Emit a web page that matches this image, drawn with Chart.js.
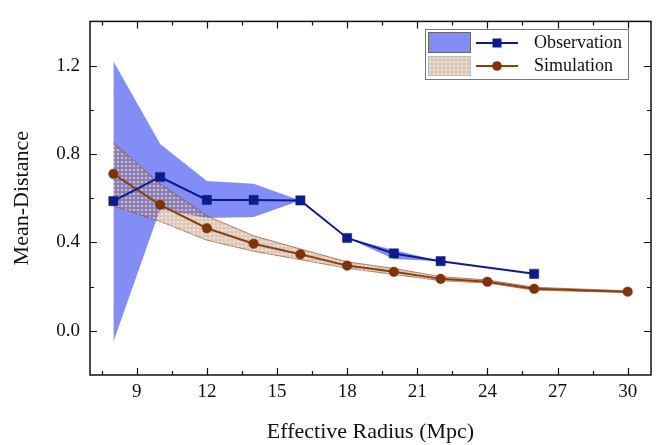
<!DOCTYPE html>
<html>
<head>
<meta charset="utf-8">
<script src="https://cdn.jsdelivr.net/npm/chart.js@4.4.0/dist/chart.umd.min.js"></script>
<style>
  html, body { margin: 0; padding: 0; background: #ffffff; }
  canvas { display: block; }
</style>
</head>
<body>
<canvas id="chart" width="661" height="445"></canvas>
<script>
// Effective radius (Mpc) for each sample
const radius = [8, 10, 12, 14, 16, 18, 20, 22, 24, 26, 30];
const obsRadius = [8, 10, 12, 14, 16, 18, 20, 22, 26];

// Observation: mean distance and its spread
const obsMean  = [0.587, 0.696, 0.592, 0.592, 0.590, 0.420, 0.350, 0.315, 0.258];
const obsUpper = [1.220, 0.845, 0.678, 0.665, 0.590, 0.420, 0.366, 0.315, 0.258];
const obsLower = [-0.050, 0.550, 0.510, 0.515, 0.590, 0.420, 0.325, 0.315, 0.258];

// Simulation: mean distance and its spread
const simMean  = [0.710, 0.570, 0.464, 0.394, 0.346, 0.295, 0.267, 0.235, 0.222, 0.190, 0.177];
const simUpper = [0.850, 0.665, 0.520, 0.430, 0.370, 0.312, 0.282, 0.245, 0.230, 0.197, 0.181];
const simLower = [0.565, 0.495, 0.410, 0.360, 0.322, 0.283, 0.255, 0.227, 0.216, 0.184, 0.173];

// Axis ticks
const xTicks = [9, 12, 15, 18, 21, 24, 27, 30];
const yTicks = [0.0, 0.4, 0.8, 1.2];
const xMinor = [7.5, 10.5, 13.5, 16.5, 19.5, 22.5, 25.5, 28.5];
const yMinor = [0.2, 0.6, 1.0];

const OBS_BAND = '#828ef5';
const OBS_LINE = '#0d1c8c';
const SIM_LINE = '#8a3f10';
const SIM_MARK = '#7f3309';
const SERIF = '"Liberation Serif", "Times New Roman", serif';

// Dotted texture for the simulation spread
function makeDots() {
  const c = document.createElement('canvas');
  c.width = 4; c.height = 4;
  const g = c.getContext('2d');
  g.fillStyle = 'rgba(150, 85, 40, 0.33)';
  g.fillRect(0, 0, 4, 4);
  g.fillStyle = 'rgba(255, 250, 244, 0.5)';
  g.beginPath();
  g.arc(2, 2, 1.3, 0, Math.PI * 2);
  g.fill();
  return g.createPattern(c, 'repeat');
}
const ctx = document.getElementById('chart').getContext('2d');
const dots = makeDots();

const pts = (xs, ys) => xs.map((x, i) => ({ x: x, y: ys[i] }));

// Inward ticks on all four sides plus the frame
const framePlugin = {
  id: 'frame',
  afterDatasetsDraw(chart) {
    const { ctx, chartArea: a, scales: { x, y } } = chart;
    ctx.save();
    ctx.strokeStyle = '#111';
    ctx.lineWidth = 1.5;
    ctx.strokeRect(a.left, a.top, a.right - a.left, a.bottom - a.top);
    ctx.lineWidth = 1.2;
    const tickX = (v, len) => {
      const px = Math.round(x.getPixelForValue(v)) + 0.5;
      ctx.beginPath();
      ctx.moveTo(px, a.bottom); ctx.lineTo(px, a.bottom - len);
      ctx.moveTo(px, a.top); ctx.lineTo(px, a.top + len);
      ctx.stroke();
    };
    const tickY = (v, len) => {
      const py = Math.round(y.getPixelForValue(v)) + 0.5;
      ctx.beginPath();
      ctx.moveTo(a.left, py); ctx.lineTo(a.left + len, py);
      ctx.moveTo(a.right, py); ctx.lineTo(a.right - len, py);
      ctx.stroke();
    };
    xTicks.forEach(v => tickX(v, 7));
    xMinor.forEach(v => tickX(v, 4));
    yTicks.forEach(v => tickY(v, 7));
    yMinor.forEach(v => tickY(v, 4));
    ctx.restore();
  }
};

// Legend box in the upper right corner
const legendPlugin = {
  id: 'boxLegend',
  afterDraw(chart) {
    const c = chart.ctx;
    c.save();
    c.fillStyle = '#ffffff';
    c.fillRect(425, 29, 203, 50);
    c.strokeStyle = '#777';
    c.lineWidth = 1;
    c.strokeRect(425.5, 29.5, 203, 50);

    c.fillStyle = OBS_BAND;
    c.fillRect(428, 32, 42, 20);
    c.strokeStyle = '#666';
    c.strokeRect(428.5, 32.5, 42, 20);

    c.fillStyle = '#ffffff';
    c.fillRect(428, 56, 42, 19);
    c.fillStyle = dots;
    c.fillRect(428, 56, 42, 19);
    c.strokeStyle = '#bbb';
    c.strokeRect(428.5, 56.5, 42, 19);

    c.lineWidth = 2;
    c.strokeStyle = OBS_LINE;
    c.beginPath(); c.moveTo(476, 43); c.lineTo(518, 43); c.stroke();
    c.fillStyle = OBS_LINE;
    c.fillRect(497 - 4.5, 43 - 4.5, 9, 9);

    c.strokeStyle = SIM_LINE;
    c.beginPath(); c.moveTo(476, 66); c.lineTo(518, 66); c.stroke();
    c.fillStyle = SIM_MARK;
    c.beginPath(); c.arc(497, 66, 4.8, 0, Math.PI * 2); c.fill();

    c.fillStyle = '#111';
    c.font = '18px ' + SERIF;
    c.textBaseline = 'middle';
    c.textAlign = 'left';
    c.fillText('Observation', 534, 43);
    c.fillText('Simulation', 534, 66);
    c.restore();
  }
};

new Chart(ctx, {
  type: 'line',
  data: {
    datasets: [
      { label: 'obs-upper', data: pts(obsRadius, obsUpper), fill: '+1',
        backgroundColor: OBS_BAND, borderWidth: 0, pointRadius: 0, order: 5 },
      { label: 'obs-lower', data: pts(obsRadius, obsLower), fill: false,
        borderWidth: 0, pointRadius: 0, order: 5 },
      { label: 'sim-upper', data: pts(radius, simUpper), fill: '+1',
        backgroundColor: dots, borderColor: 'rgba(140, 70, 30, 0.65)', borderWidth: 1,
        pointRadius: 0, order: 4 },
      { label: 'sim-lower', data: pts(radius, simLower), fill: false,
        borderColor: 'rgba(140, 70, 30, 0.65)', borderWidth: 1, pointRadius: 0, order: 4 },
      { label: 'Simulation', data: pts(radius, simMean), fill: false,
        borderColor: SIM_LINE, borderWidth: 2, pointStyle: 'circle', pointRadius: 4.8,
        pointBackgroundColor: SIM_MARK, pointBorderColor: SIM_MARK, pointBorderWidth: 0.5, order: 2 },
      { label: 'Observation', data: pts(obsRadius, obsMean), fill: false,
        borderColor: OBS_LINE, borderWidth: 2, pointStyle: 'rect', pointRadius: 6.5,
        pointBackgroundColor: OBS_LINE, pointBorderColor: OBS_LINE, pointBorderWidth: 0.5, order: 1 }
    ]
  },
  options: {
    responsive: false,
    animation: false,
    layout: { padding: { top: 12, right: 10, left: 0, bottom: 0 } },
    plugins: { legend: { display: false }, tooltip: { enabled: false } },
    elements: { line: { tension: 0 } },
    scales: {
      x: {
        type: 'linear', min: 7, max: 31,
        grid: { display: false, drawTicks: false }, border: { display: false },
        afterBuildTicks: s => { s.ticks = xTicks.map(v => ({ value: v })); },
        afterFit: s => { s.height = 70; },
        ticks: { padding: 6, color: '#111', font: { family: SERIF, size: 19 },
                 callback: v => String(v), maxRotation: 0, autoSkip: false },
        title: { display: true, text: 'Effective Radius (Mpc)', color: '#111',
                 font: { family: SERIF, size: 22 }, padding: { top: 0, bottom: 0 } }
      },
      y: {
        type: 'linear', min: -0.2, max: 1.4,
        grid: { display: false, drawTicks: false }, border: { display: false },
        afterBuildTicks: s => { s.ticks = yTicks.map(v => ({ value: v })); },
        afterFit: s => { s.width = 90; },
        ticks: { padding: 10, color: '#111', font: { family: SERIF, size: 19 },
                 callback: v => Number(v).toFixed(1), autoSkip: false },
        title: { display: true, text: 'Mean-Distance', color: '#111',
                 font: { family: SERIF, size: 22 }, padding: { top: 9, bottom: 0 } }
      }
    }
  },
  plugins: [framePlugin, legendPlugin]
});
</script>
</body>
</html>
